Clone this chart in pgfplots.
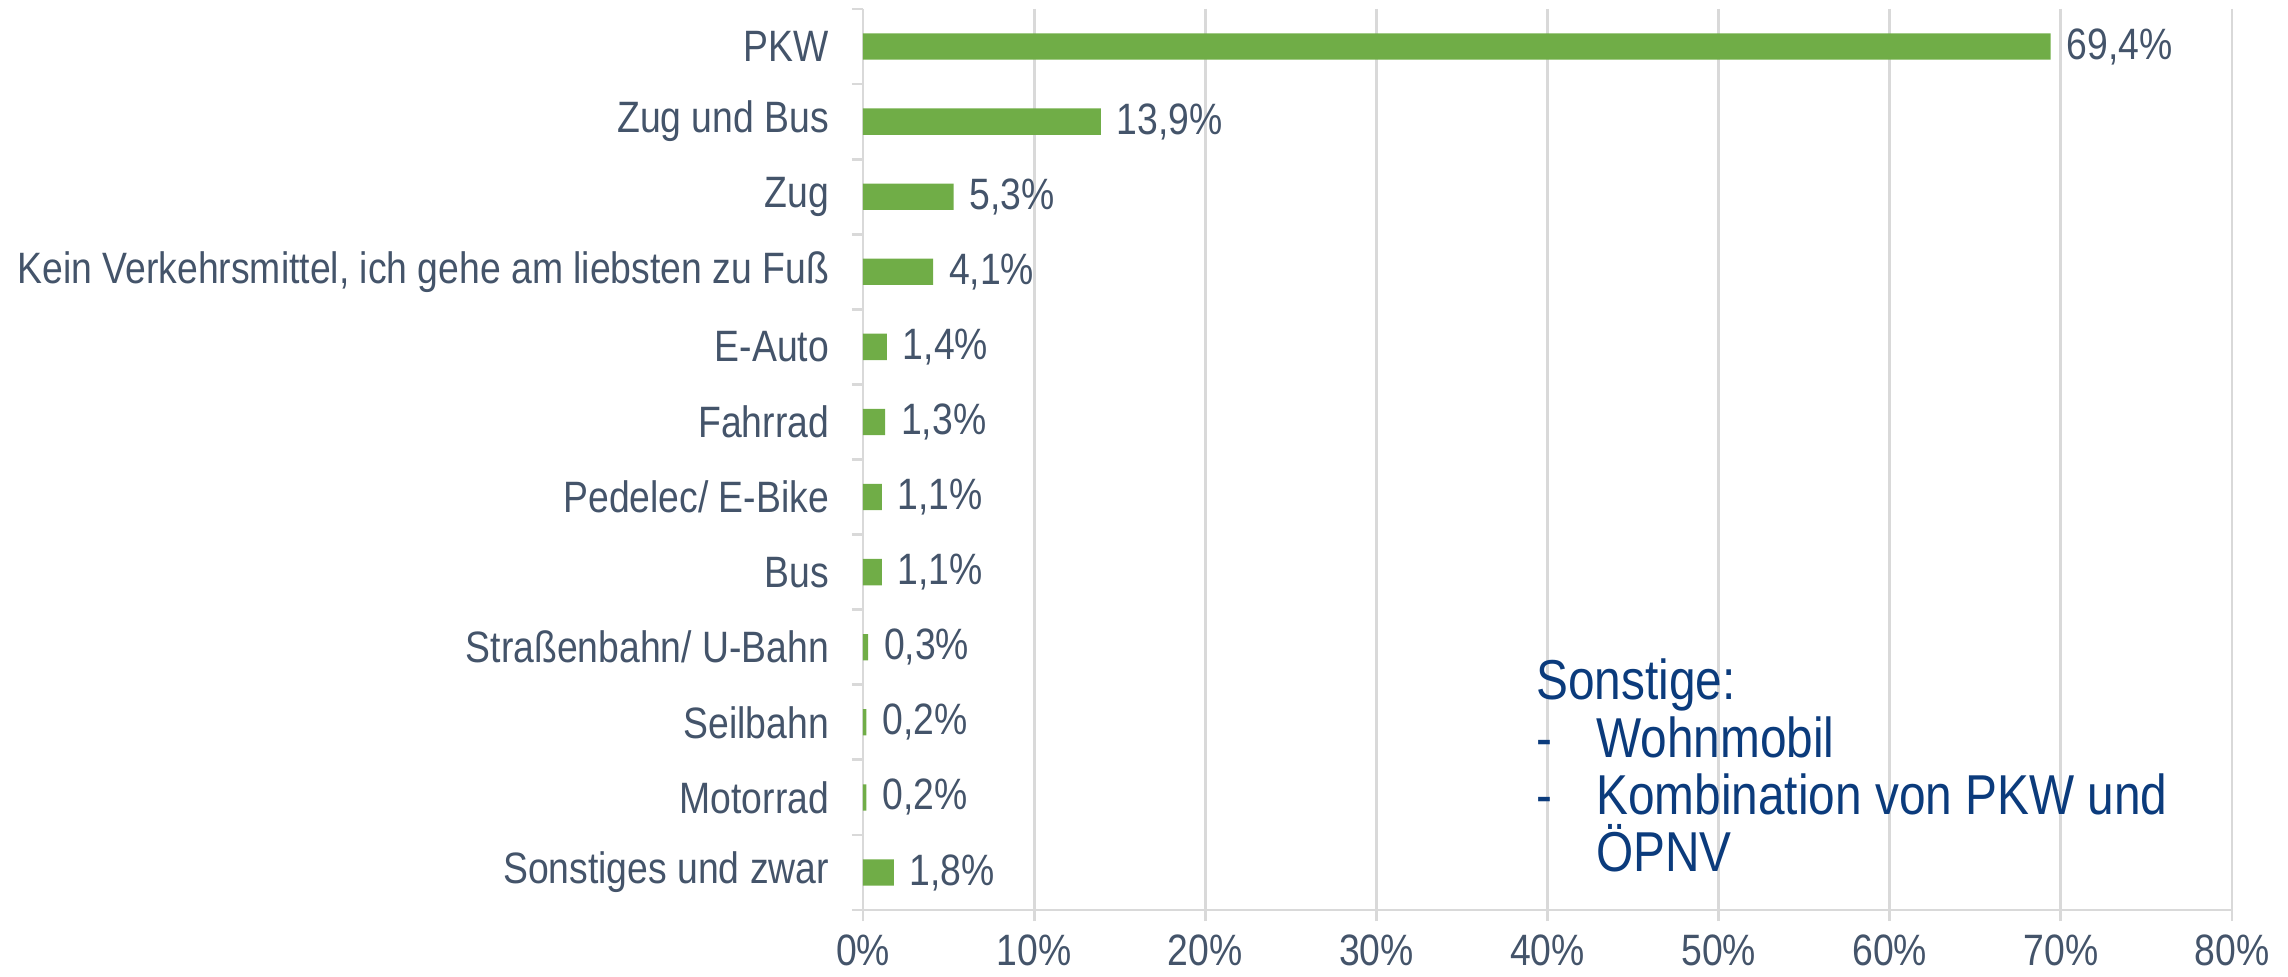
\documentclass[border=0pt]{standalone}
\usepackage{pgfplots}
\pgfplotsset{compat=1.18}
\usepackage{fontspec}
\setmainfont{Liberation Sans}[FakeStretch=0.85]
\usetikzlibrary{calc}
\definecolor{bargreen}{HTML}{70AD47}
\definecolor{txtgrey}{HTML}{44546A}
\definecolor{gridgrey}{HTML}{D9D9D9}
\definecolor{boxblue}{HTML}{0B3B7C}
\begin{document}
\begin{tikzpicture}
\begin{axis}[
  name=ax,
  scale only axis,
  width=136.9mm, height=90.1mm,
  xmin=0, xmax=80,
  ymin=-0.5, ymax=11.5,
  y dir=reverse,
  xbar,
  bar width=0.35,
  axis x line=bottom, axis y line=left,
  axis line style={-, draw=gridgrey, line width=0.8pt},
  xtick={0,10,...,80},
  xticklabels={0\%,10\%,20\%,30\%,40\%,50\%,60\%,70\%,80\%},
  xmajorgrids,
  major grid style={draw=gridgrey, line width=0.8pt},
  tick align=outside,
  major tick length=1.1mm,
  minor tick length=1.1mm,
  tick style={draw=gridgrey, line width=0.8pt},
  ytick={0,...,11},
  yticklabels={PKW,Zug und Bus,Zug,{Kein Verkehrsmittel, ich gehe am liebsten zu Fuß},E-Auto,Fahrrad,Pedelec/ E-Bike,Bus,Straßenbahn/ U-Bahn,Seilbahn,Motorrad,Sonstiges und zwar},
  minor ytick={-0.5,0.5,...,11.5},
  every major y tick/.style={draw=none},
  ticklabel style={font=\fontsize{12.5}{14}\selectfont, text=txtgrey},
  yticklabel style={xshift=-3pt},
  xticklabel style={yshift=-0.5pt},
  nodes near coords={\pgfmathprintnumber[fixed,fixed zerofill,precision=1,use comma,assume math mode=true]{\pgfplotspointmeta}\%},
  nodes near coords style={font=\fontsize{12.5}{14}\selectfont, text=txtgrey, anchor=west, xshift=1pt},
  clip=false,
]
\addplot[fill=bargreen, draw=none] coordinates {
(69.4,0) (13.9,1) (5.3,2) (4.1,3) (1.4,4) (1.3,5) (1.1,6) (1.1,7) (0.3,8) (0.2,9) (0.2,10) (1.8,11)
};
\node[anchor=north west, inner sep=0pt, text=boxblue, align=left,
      font=\fontsize{16}{16.3}\selectfont] at (axis cs:39.3,8.15)
  {Sonstige:\\
   \makebox[6mm][l]{-}Wohnmobil\\
   \makebox[6mm][l]{-}Kombination von PKW und\\
   \hspace*{6mm}ÖPNV};
\end{axis}
\pgfresetboundingbox
\path ($(ax.south west)+(-86.3mm,-6.6mm)$) rectangle ($(ax.north east)+(5.6mm,0.9mm)$);
\end{tikzpicture}
\end{document}
